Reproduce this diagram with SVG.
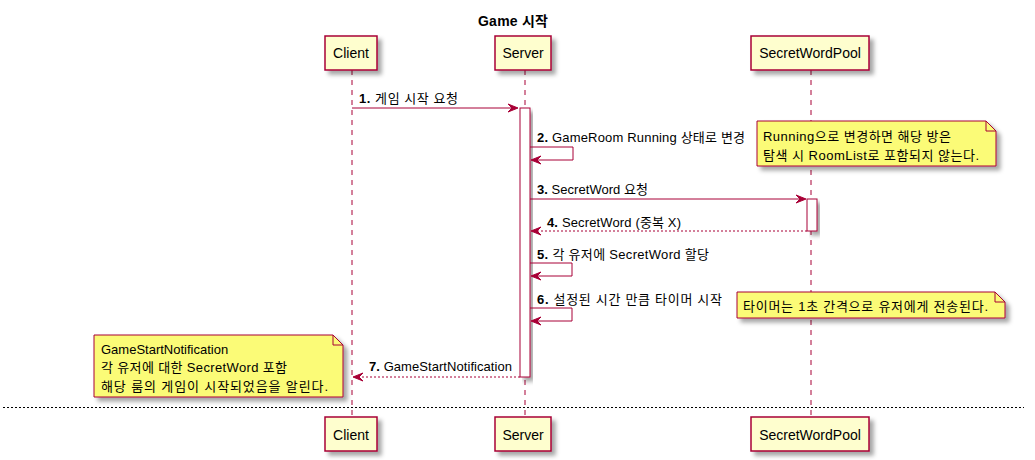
<svg xmlns="http://www.w3.org/2000/svg" width="1035" height="460" viewBox="0 0 1035 460">
<defs>
<filter id="sh" x="-20%" y="-20%" width="150%" height="160%">
<feGaussianBlur in="SourceAlpha" stdDeviation="2"/>
<feOffset dx="4" dy="4" result="b"/>
<feColorMatrix in="b" type="matrix" values="0 0 0 0 0  0 0 0 0 0  0 0 0 0 0  0 0 0 0.35 0" result="c"/>
<feMerge><feMergeNode in="c"/><feMergeNode in="SourceGraphic"/></feMerge>
</filter>
</defs>
<style>
text{font-family:"Liberation Sans","Noto Sans CJK KR",sans-serif;fill:#000}
.t{font-size:13px}
.p{font-size:14px;text-anchor:middle}
.b{font-weight:bold}
.box{fill:#FEFECE;stroke:#A80036;stroke-width:1.5}
.life{stroke:#A80036;stroke-width:1;stroke-dasharray:5,5;fill:none}
.act{fill:#FFFFFF;stroke:#A80036;stroke-width:1}
.msg{stroke:#A80036;stroke-width:1;fill:none}
.ret{stroke:#A80036;stroke-width:1;fill:none;stroke-dasharray:2,2}
.head{fill:#A80036;stroke:#A80036;stroke-width:1}
.note{fill:#FBFB77;stroke:#A80036;stroke-width:1}
.fold{fill:none;stroke:#A80036;stroke-width:1}
</style>
<rect width="1035" height="460" fill="#FFFFFF"/>
<text x="478" y="26" class="b" style="font-size:14px" textLength="70" lengthAdjust="spacing">Game 시작</text>

<g id="lifelines">
<line class="life" x1="352" y1="70" x2="352" y2="417"/>
<line class="life" x1="525" y1="70" x2="525" y2="417"/>
<line class="life" x1="811" y1="70" x2="811" y2="417"/>
</g>

<g id="client">
<rect class="box" x="325" y="36" width="52" height="34" filter="url(#sh)"/>
<text class="p" x="351" y="58">Client</text>
<rect class="box" x="325" y="417" width="52" height="34" filter="url(#sh)"/>
<text class="p" x="351" y="440">Client</text>
</g>
<g id="server">
<rect class="box" x="495" y="36" width="56" height="34" filter="url(#sh)"/>
<text class="p" x="523" y="58">Server</text>
<rect class="box" x="495" y="417" width="56" height="34" filter="url(#sh)"/>
<text class="p" x="523" y="440">Server</text>
<rect class="act" x="520" y="108" width="10" height="269" filter="url(#sh)"/>
</g>
<g id="secretwordpool">
<rect class="box" x="751" y="36" width="118" height="34" filter="url(#sh)"/>
<text class="p" x="810" y="58">SecretWordPool</text>
<rect class="box" x="751" y="417" width="118" height="34" filter="url(#sh)"/>
<text class="p" x="810" y="440">SecretWordPool</text>
<rect class="act" x="807" y="199" width="10" height="32" filter="url(#sh)"/>
</g>

<g id="connectors">
<line class="msg" x1="352" y1="108" x2="516" y2="108"/>
<polygon class="head" points="508,104 518,108 508,112 512,108"/>
<text class="t" x="359" y="103" textLength="99" lengthAdjust="spacing"><tspan class="b">1.</tspan> 게임 시작 요청</text>

<polyline class="msg" points="530,147 573,147 573,160 533,160"/>
<polygon class="head" points="541,156 531,160 541,164 537,160"/>
<text class="t" x="537" y="142" textLength="208" lengthAdjust="spacing"><tspan class="b">2.</tspan> GameRoom Running 상태로 변경</text>

<line class="msg" x1="530" y1="199" x2="804" y2="199"/>
<polygon class="head" points="796,195 806,199 796,203 800,199"/>
<text class="t" x="537" y="194" textLength="111" lengthAdjust="spacing"><tspan class="b">3.</tspan> SecretWord 요청</text>

<line class="ret" x1="807" y1="231" x2="533" y2="231"/>
<polygon class="head" points="541,227 531,231 541,235 537,231"/>
<text class="t" x="547" y="227" textLength="134" lengthAdjust="spacing"><tspan class="b">4.</tspan> SecretWord (중복 X)</text>

<polyline class="msg" points="530,263 572,263 572,276 533,276"/>
<polygon class="head" points="541,272 531,276 541,280 537,276"/>
<text class="t" x="537" y="259" textLength="172" lengthAdjust="spacing"><tspan class="b">5.</tspan> 각 유저에 SecretWord 할당</text>

<polyline class="msg" points="530,308 572,308 572,321 533,321"/>
<polygon class="head" points="541,317 531,321 541,325 537,321"/>
<text class="t" x="537" y="304" textLength="185" lengthAdjust="spacing"><tspan class="b">6.</tspan> 설정된 시간 만큼 타이머 시작</text>

<line class="ret" x1="520" y1="377" x2="355" y2="377"/>
<polygon class="head" points="363,373 353,377 363,381 359,377"/>
<text class="t" x="369" y="371" textLength="143" lengthAdjust="spacing"><tspan class="b">7.</tspan> GameStartNotification</text>
</g>

<g id="note1">
<path class="note" filter="url(#sh)" d="M757,121 L757,166 L996,166 L996,131 L986,121 Z"/>
<path class="fold" d="M986,121 L986,131 L996,131"/>
<text class="t" x="763" y="141" textLength="188" lengthAdjust="spacing">Running으로 변경하면 해당 방은</text>
<text class="t" x="763" y="160" textLength="216" lengthAdjust="spacing">탐색 시 RoomList로 포함되지 않는다.</text>
</g>
<g id="note2">
<path class="note" filter="url(#sh)" d="M737,292 L737,318 L1005,318 L1005,302 L995,292 Z"/>
<path class="fold" d="M995,292 L995,302 L1005,302"/>
<text class="t" x="743" y="311" textLength="245" lengthAdjust="spacing">타이머는 1초 간격으로 유저에게 전송된다.</text>
</g>
<g id="note3">
<path class="note" filter="url(#sh)" d="M94,335 L94,397 L343,397 L343,345 L333,335 Z"/>
<path class="fold" d="M333,335 L333,345 L343,345"/>
<text class="t" x="101" y="354">GameStartNotification</text>
<text class="t" x="101" y="372" textLength="186" lengthAdjust="spacing">각 유저에 대한 SecretWord 포함</text>
<text class="t" x="101" y="391" textLength="227" lengthAdjust="spacing">해당 룸의 게임이 시작되었음을 알린다.</text>
</g>

<line x1="3" y1="407.5" x2="1024" y2="407.5" stroke="#000" stroke-width="1" stroke-dasharray="2,2"/>
</svg>
